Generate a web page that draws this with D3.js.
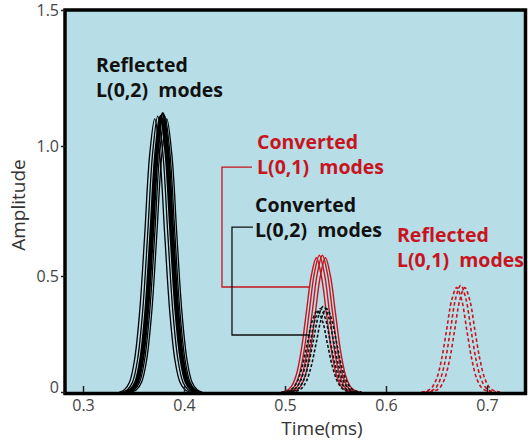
<!DOCTYPE html>
<html><head><meta charset="utf-8">
<script src="https://cdn.jsdelivr.net/npm/d3@7"></script>
<style>
body{margin:0;background:#fff}
svg{display:block}
text{font-family:"Open Sans","Noto Sans",sans-serif}
</style>
</head><body>
<svg id="c" width="530" height="443"></svg>
<script>
// ---------- data ----------
const xTicks = [0.3, 0.4, 0.5, 0.6, 0.7];
const xTickLabels = ["0.3", "0.4", "0.5", "0.6", "0.7"];
const yTicks = [0, 0.5, 1.0, 1.5];
const yTickLabels = ["0", "0.5", "1.0", "1.5"];
const xTitle = "Time(ms)";
const yTitle = "Amplitude";

// Reflected L(0,2) modes — black solid
const reflectedL02Time = [
  [0.336,0.341,0.346,0.351,0.356,0.361,0.366,0.371,0.376,0.381,0.386,0.391,0.396,0.401,0.406],
  [0.339,0.344,0.349,0.354,0.359,0.364,0.369,0.374,0.379,0.384,0.389,0.394,0.399,0.404,0.409],
  [0.342,0.347,0.352,0.357,0.362,0.367,0.372,0.377,0.382,0.387,0.392,0.397,0.402,0.407,0.412],
  [0.344,0.349,0.354,0.359,0.364,0.369,0.374,0.379,0.384,0.389,0.394,0.399,0.404,0.409,0.414],
  [0.346,0.351,0.356,0.361,0.366,0.371,0.376,0.381,0.386,0.391,0.396,0.401,0.406,0.411,0.416],
  [0.348,0.353,0.358,0.363,0.368,0.373,0.378,0.383,0.388,0.393,0.398,0.403,0.408,0.413,0.418]
];
const reflectedL02Amp = [
  [0,0.010,0.042,0.138,0.341,0.653,0.966,1.10,0.966,0.653,0.341,0.138,0.042,0.010,0],
  [0,0.010,0.042,0.139,0.344,0.659,0.975,1.11,0.975,0.659,0.344,0.139,0.042,0.010,0],
  [0,0.010,0.042,0.139,0.344,0.659,0.975,1.11,0.975,0.659,0.344,0.139,0.042,0.010,0],
  [0,0.010,0.043,0.140,0.347,0.665,0.983,1.12,0.983,0.665,0.347,0.140,0.043,0.010,0],
  [0,0.010,0.042,0.139,0.344,0.659,0.975,1.11,0.975,0.659,0.344,0.139,0.042,0.010,0],
  [0,0.010,0.042,0.138,0.341,0.653,0.966,1.10,0.966,0.653,0.341,0.138,0.042,0.010,0]
];
const reflectedL02Bold = [false, false, true, true, false, false];

// Converted L(0,1) modes — red solid
const convertedL01Time = [
  [0.496,0.501,0.506,0.511,0.516,0.521,0.526,0.531,0.536,0.541,0.546,0.551,0.556,0.561,0.566],
  [0.499,0.504,0.509,0.514,0.519,0.524,0.529,0.534,0.539,0.544,0.549,0.554,0.559,0.564,0.569],
  [0.502,0.507,0.512,0.517,0.522,0.527,0.532,0.537,0.542,0.547,0.552,0.557,0.562,0.567,0.572],
  [0.505,0.510,0.515,0.520,0.525,0.530,0.535,0.540,0.545,0.550,0.555,0.560,0.565,0.570,0.575]
];
const convertedL01Amp = [
  [0,0.005,0.022,0.071,0.177,0.339,0.500,0.57,0.500,0.339,0.177,0.071,0.022,0.005,0],
  [0,0.005,0.022,0.073,0.180,0.345,0.509,0.58,0.509,0.345,0.180,0.073,0.022,0.005,0],
  [0,0.005,0.022,0.073,0.180,0.345,0.509,0.58,0.509,0.345,0.180,0.073,0.022,0.005,0],
  [0,0.005,0.022,0.071,0.177,0.339,0.500,0.57,0.500,0.339,0.177,0.071,0.022,0.005,0]
];

// Converted L(0,2) modes — black dashed
const convertedL02Time = [
  [0.497,0.502,0.507,0.512,0.517,0.522,0.527,0.532,0.537,0.542,0.547,0.552,0.557,0.562,0.567],
  [0.500,0.505,0.510,0.515,0.520,0.525,0.530,0.535,0.540,0.545,0.550,0.555,0.560,0.565,0.570],
  [0.503,0.508,0.513,0.518,0.523,0.528,0.533,0.538,0.543,0.548,0.553,0.558,0.563,0.568,0.573],
  [0.506,0.511,0.516,0.521,0.526,0.531,0.536,0.541,0.546,0.551,0.556,0.561,0.566,0.571,0.576]
];
const convertedL02Amp = [
  [0,0.003,0.013,0.044,0.109,0.208,0.307,0.35,0.307,0.208,0.109,0.044,0.013,0.003,0],
  [0,0.003,0.014,0.045,0.112,0.214,0.316,0.36,0.316,0.214,0.112,0.045,0.014,0.003,0],
  [0,0.003,0.014,0.046,0.115,0.220,0.325,0.37,0.325,0.220,0.115,0.046,0.014,0.003,0],
  [0,0.003,0.014,0.045,0.112,0.214,0.316,0.36,0.316,0.214,0.112,0.045,0.014,0.003,0]
];

// Reflected L(0,1) modes — red dashed
const reflectedL01Time = [
  [0.635,0.640,0.645,0.650,0.655,0.660,0.665,0.670,0.675,0.680,0.685,0.690,0.695,0.700,0.705],
  [0.639,0.644,0.649,0.654,0.659,0.664,0.669,0.674,0.679,0.684,0.689,0.694,0.699,0.704,0.709],
  [0.643,0.648,0.653,0.658,0.663,0.668,0.673,0.678,0.683,0.688,0.693,0.698,0.703,0.708,0.713]
];
const reflectedL01Amp = [
  [0,0.004,0.017,0.056,0.140,0.267,0.395,0.45,0.395,0.267,0.140,0.056,0.017,0.004,0],
  [0,0.004,0.017,0.058,0.143,0.273,0.404,0.46,0.404,0.273,0.143,0.058,0.017,0.004,0],
  [0,0.004,0.017,0.056,0.140,0.267,0.395,0.45,0.395,0.267,0.140,0.056,0.017,0.004,0]
];

const labelReflectedL02 = ["Reflected", "L(0,2)  modes"];
const labelConvertedL01 = ["Converted", "L(0,1)  modes"];
const labelConvertedL02 = ["Converted", "L(0,2)  modes"];
const labelReflectedL01 = ["Reflected", "L(0,1)  modes"];

// ---------- drawing ----------
const RED = "#c8141e";
const svg = d3.select("#c");
const L = 65, R = 525.5, T = 10, B = 393.5;

const x = d3.scaleLinear().domain([0.3, 0.7]).range([83, 487]);
const y = d3.scaleLinear().domain([0, 0.5, 1.0, 1.5]).range([392, 276, 146, 10]);

svg.append("defs").append("clipPath").attr("id", "plotclip")
  .append("rect").attr("x", L).attr("y", T).attr("width", R - L).attr("height", B - T);

svg.append("rect").attr("x", L).attr("y", T).attr("width", R - L).attr("height", B - T)
  .attr("fill", "#b7dde6");

const g = svg.append("g").attr("clip-path", "url(#plotclip)");
const line = d3.line().x(d => x(d[0])).y(d => y(d[1])).curve(d3.curveCatmullRom.alpha(0.5));

function drawSet(times, amps, style) {
  times.forEach((t, i) => {
    g.append("path")
      .attr("d", line(d3.zip(t, amps[i])))
      .attr("fill", "none")
      .attr("stroke", style.color)
      .attr("stroke-width", typeof style.width === "function" ? style.width(i) : style.width)
      .attr("stroke-dasharray", style.dash || null)
      .attr("stroke-linejoin", "round");
  });
}

drawSet(reflectedL02Time, reflectedL02Amp, {color: "#000", width: i => reflectedL02Bold[i] ? 2.8 : 1.3});
drawSet(convertedL01Time, convertedL01Amp, {color: RED, width: 1.4});
drawSet(convertedL02Time, convertedL02Amp, {color: "#111", width: 1.6, dash: "3,2"});
drawSet(reflectedL01Time, reflectedL01Amp, {color: RED, width: 1.6, dash: "3.5,2.5"});

// leader brackets
const bracket = d3.line().x(d => x(d[0])).y(d => y(d[1]));
svg.append("path")
  .attr("d", bracket([[0.4673, 0.919], [0.4376, 0.919], [0.4376, 0.4526], [0.5248, 0.4526]]))
  .attr("fill", "none").attr("stroke", RED).attr("stroke-width", 1.3);
svg.append("path")
  .attr("d", bracket([[0.4683, 0.688], [0.4475, 0.688], [0.4475, 0.2457], [0.5248, 0.2457]]))
  .attr("fill", "none").attr("stroke", "#111").attr("stroke-width", 1.3);

// annotations
function annot(lines, tx, amp, color) {
  const t = svg.append("text")
    .attr("x", x(tx)).attr("y", y(amp))
    .attr("fill", color)
    .style("font-size", "19.5px").style("font-weight", "700")
    .style("white-space", "pre");
  lines.forEach((s, i) => {
    t.append("tspan").attr("x", x(tx)).attr("dy", i === 0 ? 0 : 25).text(s);
  });
}
annot(labelReflectedL02, 0.3129, 1.272, "#111");
annot(labelConvertedL01, 0.4723, 0.987, RED);
annot(labelConvertedL02, 0.4703, 0.747, "#111");
annot(labelReflectedL01, 0.6109, 0.632, RED);

// frame
svg.append("rect").attr("x", L).attr("y", T).attr("width", R - L).attr("height", B - T)
  .attr("fill", "none").attr("stroke", "#000").attr("stroke-width", 3.5);

// axes
const xAxis = svg.append("g").attr("transform", `translate(0,${y(0)})`)
  .call(d3.axisBottom(x).tickValues(xTicks).tickSize(-6).tickPadding(8)
    .tickFormat((d, i) => xTickLabels[i]));
xAxis.select(".domain").remove();
xAxis.selectAll(".tick line").attr("stroke", "#222").attr("stroke-width", 1.5);
xAxis.selectAll(".tick text").style("font-size", "16px").attr("fill", "#444")
  .style("font-family", "'Open Sans','Noto Sans',sans-serif");

const yAxis = svg.append("g").attr("transform", `translate(${L},0)`)
  .call(d3.axisLeft(y).tickValues(yTicks).tickSize(4).tickPadding(2)
    .tickFormat((d, i) => yTickLabels[i]));
yAxis.select(".domain").remove();
yAxis.selectAll(".tick line").attr("stroke", "#222").attr("stroke-width", 1.5);
yAxis.selectAll(".tick text").style("font-size", "16px").attr("fill", "#444")
  .style("font-family", "'Open Sans','Noto Sans',sans-serif")
  .attr("y", d => d === 0 ? -5 : 0);

// titles
svg.append("text").attr("x", 322).attr("y", 435).attr("text-anchor", "middle")
  .attr("fill", "#333").style("font-size", "19px").text(xTitle);
svg.append("text").attr("transform", "translate(25,205) rotate(-90)").attr("text-anchor", "middle")
  .attr("fill", "#333").style("font-size", "19px").text(yTitle);
</script>
</body></html>
